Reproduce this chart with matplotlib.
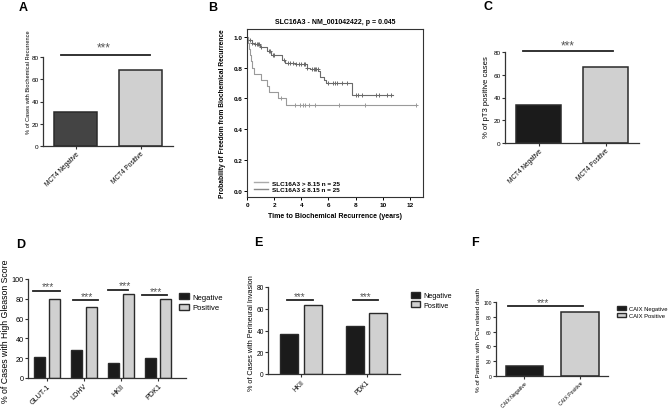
"""
Multi-panel figure: MCT4 / SLC16A3 / CAIX association with clinical outcome
"""

import numpy as np
import matplotlib
matplotlib.use("Agg")
import matplotlib.pyplot as plt
import matplotlib.transforms as mtransforms
from matplotlib.patches import Patch
from matplotlib.lines import Line2D

plt.rcParams["font.family"] = ["Liberation Sans", "DejaVu Sans"]

W, H = 668, 410

# Panel A - biochemical recurrence by MCT4 status
a_groups = ["MCT4 Negative", "MCT4 Positive"]
a_values = [31, 68]

# Panel B - Kaplan-Meier, SLC16A3 expression
km_high_t = [0, 0.1, 0.35, 0.5, 0.95, 1.45, 1.8, 2.55, 2.8, 3.5, 4.4, 4.65, 5.25, 5.4, 5.65, 5.8, 7.7, 10.75]
km_high_s = [1.0, 0.98, 0.96, 0.95, 0.93, 0.91, 0.88, 0.85, 0.83, 0.82, 0.80, 0.79, 0.78, 0.74, 0.72, 0.70, 0.625, 0.625]
km_high_cens = [0.2, 0.4, 0.6, 0.7, 0.8, 0.9, 1.05, 1.6, 1.7, 1.9, 2.0, 2.7, 3.0, 3.2, 3.4, 3.6, 3.8,
                4.0, 4.2, 4.3, 4.45, 4.8, 4.9, 5.0, 5.1, 5.2, 6.0, 6.3, 6.5, 6.6, 7.0, 7.4,
                8.0, 8.2, 8.5, 9.5, 9.7, 10.3, 10.6]
km_low_t = [0, 0.08, 0.12, 0.2, 0.3, 0.4, 0.5, 1.05, 1.5, 1.65, 2.3, 2.9, 12.45]
km_low_s = [1.0, 0.96, 0.92, 0.88, 0.84, 0.80, 0.76, 0.72, 0.68, 0.64, 0.60, 0.555, 0.555]
km_low_cens = [2.5, 3.5, 3.9, 4.1, 4.3, 4.6, 5.0, 6.8, 8.7, 12.45]
km_labels = ["SLC16A3 > 8.15 n = 25", "SLC16A3 \u2264 8.15 n = 25"]

# Panel C - pT3 by MCT4 status
c_groups = ["MCT4 Negative", "MCT4 Positive"]
c_values = [33, 67]

# Panel D - high Gleason score
d_genes = ["GLUT-1", "LDHV", "HKII", "PDK1"]
d_negative = [21, 28, 15, 20]
d_positive = [80, 72, 85, 80]

# Panel E - perineural invasion
e_genes = ["HKII", "PDK1"]
e_negative = [37, 44]
e_positive = [63, 56]

# Panel F - PCa related death by CAIX
f_groups = ["CAIX Negative", "CAIX Positive"]
f_values = [14, 86]

DARK = "#1b1b1b"
LIGHT = "#d0d0d0"
EDGE = "#2a2a2a"


def px_axes(fig, x0, y0, x1, y1):
    """Add axes from pixel box (top-left origin)"""
    return fig.add_axes([x0 / W, 1 - y1 / H, (x1 - x0) / W, (y1 - y0) / H])


def prism_style(ax, fs):
    for s in ["top", "right"]:
        ax.spines[s].set_visible(False)
    for s in ["left", "bottom"]:
        ax.spines[s].set_linewidth(0.9)
        ax.spines[s].set_color("#333333")
    ax.tick_params(length=2, width=0.8, labelsize=fs, pad=1, color="#333333")


def sig(ax, x0, x1, y, ys, xs, fs=8.5):
    ax.plot([x0, x1], [y, y], color="#222222", lw=1.3, clip_on=False)
    # asterisks sit high in the glyph box, so anchor on baseline and shift down
    tr = mtransforms.offset_copy(ax.transData, fig=ax.figure, y=-0.55 * fs * 100 / 72, units="dots")
    ax.text(xs, ys, "***", ha="center", va="baseline", fontsize=fs, color="#555555",
            transform=tr, clip_on=False)


def xlabels(ax, ticks, labels, fs):
    ax.set_xticks(ticks)
    ax.set_xticklabels(labels, rotation=45, ha="right", rotation_mode="anchor", fontsize=fs)


fig = plt.figure(figsize=(W / 100, H / 100), dpi=100)

# ---- A ----
ax = px_axes(fig, 43, 58, 173, 147)
ax.bar([0, 1], a_values, width=0.67, color=["#444444", LIGHT], edgecolor=EDGE, linewidth=1.1)
ax.set_xlim(-0.5, 1.5)
ax.set_ylim(0, 80)
ax.set_yticks([0, 20, 40, 60, 80])
prism_style(ax, 4.6)
xlabels(ax, [0, 1], a_groups, 4.7)
sig(ax, -0.22, 1.14, 81.8, 91.7, 0.43)
fig.text(29 / W, 1 - 82 / H, "% of Cases with Biochemical Recurrence", rotation=90,
         ha="center", va="center", fontsize=4.1)

# ---- B ----
ax = px_axes(fig, 247, 30, 423, 198)
ax.step(km_high_t, km_high_s, where="post", color="#6a6a6a", lw=0.8)
ax.step(km_low_t, km_low_s, where="post", color="#9a9a9a", lw=0.8)
hi_y = [km_high_s[np.searchsorted(km_high_t, c, side="right") - 1] for c in km_high_cens]
lo_y = [km_low_s[np.searchsorted(km_low_t, c, side="right") - 1] for c in km_low_cens]
ax.plot(km_high_cens, hi_y, "+", color="#6a6a6a", ms=3.2, mew=0.7)
ax.plot(km_low_cens, lo_y, "+", color="#9a9a9a", ms=3.2, mew=0.7)
ax.set_xlim(0, 12.96)
ax.set_ylim(-0.04, 1.05)
ax.set_xticks([0, 2, 4, 6, 8, 10, 12])
ax.set_yticks([0, 0.2, 0.4, 0.6, 0.8, 1.0])
ax.set_yticklabels(["0.0", "0.2", "0.4", "0.6", "0.8", "1.0"])
for s in ax.spines.values():
    s.set_linewidth(0.8)
    s.set_color("#333333")
ax.tick_params(length=2, width=0.7, labelsize=4.6, pad=1.5)
for t in ax.get_xticklabels() + ax.get_yticklabels():
    t.set_fontweight("bold")
ax.set_title("SLC16A3 - NM_001042422, p = 0.045", fontsize=5, fontweight="bold", pad=4)
fig.text(335 / W, 1 - 217 / H, "Time to Biochemical Recurrence (years)", ha="center", va="center",
         fontsize=5, fontweight="bold")
fig.text(223 / W, 1 - 114 / H, "Probability of Freedom from Biochemical Recurrence", rotation=90,
         ha="center", va="center", fontsize=4.8, fontweight="bold")
handles = [Line2D([0], [0], color="#aaaaaa", lw=1), Line2D([0], [0], color="#888888", lw=1)]
ax.legend(handles, km_labels, loc="upper left", bbox_to_anchor=(251 / W, 1 - 178 / H),
          bbox_transform=fig.transFigure, frameon=False, handlelength=2.2,
          handletextpad=0.6, labelspacing=0.15, borderpad=0, prop={"weight": "bold", "size": 4.6})

# ---- C ----
ax = px_axes(fig, 505, 53, 639, 144)
ax.bar([0, 1], c_values, width=0.67, color=[DARK, LIGHT], edgecolor=EDGE, linewidth=1.1)
ax.set_xlim(-0.5, 1.5)
ax.set_ylim(0, 80)
ax.set_yticks([0, 20, 40, 60, 80])
prism_style(ax, 4.6)
xlabels(ax, [0, 1], c_groups, 4.7)
sig(ax, -0.23, 1.11, 80.5, 88.8, 0.44)
fig.text(487 / W, 1 - 97 / H, "% of pT3 positive cases", rotation=90,
         ha="center", va="center", fontsize=5.6)

# ---- D ----
ax = px_axes(fig, 28, 280, 186, 379)
x = np.arange(len(d_genes))
ax.bar(x - 0.2, d_negative, width=0.3, color=DARK, edgecolor=EDGE, linewidth=1)
ax.bar(x + 0.2, d_positive, width=0.3, color=LIGHT, edgecolor=EDGE, linewidth=1)
ax.set_xlim(-0.51, 3.76)
ax.set_ylim(0, 100)
ax.set_yticks([0, 20, 40, 60, 80, 100])
prism_style(ax, 5.2)
xlabels(ax, x, d_genes, 5.2)
sig(ax, -0.38, 0.35, 88, 96, 0.03, 7.5)
sig(ax, 1 - 0.30, 1 + 0.38, 78.8, 86, 1.08, 7.5)
sig(ax, 2 - 0.35, 2 + 0.19, 89, 97, 2.1, 7.5)
sig(ax, 3 - 0.42, 3 + 0.25, 84, 91, 2.95, 7.5)
fig.text(6 / W, 1 - 331 / H, "% of Cases with High Gleason Score", rotation=90,
         ha="center", va="center", fontsize=6.3)
ax.legend([Patch(facecolor=DARK, edgecolor=EDGE), Patch(facecolor=LIGHT, edgecolor=EDGE)],
          ["Negative", "Positive"], loc="upper left", bbox_to_anchor=(175 / W, 1 - 290 / H),
          bbox_transform=fig.transFigure, frameon=False, fontsize=5.5, handlelength=1.3,
          handleheight=0.9, handletextpad=0.5, labelspacing=0.4, borderpad=0)

# ---- E ----
ax = px_axes(fig, 268, 288, 400, 375)
x = np.arange(len(e_genes))
ax.bar(x - 0.18, e_negative, width=0.275, color=DARK, edgecolor=EDGE, linewidth=1)
ax.bar(x + 0.18, e_positive, width=0.275, color=LIGHT, edgecolor=EDGE, linewidth=1)
ax.set_xlim(-0.5, 1.51)
ax.set_ylim(0, 80)
ax.set_yticks([0, 20, 40, 60, 80])
prism_style(ax, 4.8)
xlabels(ax, x, e_genes, 4.8)
sig(ax, -0.21, 0.18, 68, 73.6, -0.02, 7)
sig(ax, 1 - 0.2, 1 + 0.18, 68, 73.6, 0.98, 7)
fig.text(252 / W, 1 - 333 / H, "% of Cases with Perineural Invasion", rotation=90,
         ha="center", va="center", fontsize=5.2)
ax.legend([Patch(facecolor=DARK, edgecolor=EDGE), Patch(facecolor=LIGHT, edgecolor=EDGE)],
          ["Negative", "Positive"], loc="upper left", bbox_to_anchor=(407 / W, 1 - 289 / H),
          bbox_transform=fig.transFigure, frameon=False, fontsize=5.2, handlelength=1.3,
          handleheight=0.9, handletextpad=0.5, labelspacing=0.3, borderpad=0)

# ---- F ----
ax = px_axes(fig, 496, 303, 608, 377)
ax.bar([0, 1], f_values, width=0.67, color=[DARK, LIGHT], edgecolor=EDGE, linewidth=1.1)
ax.set_xlim(-0.51, 1.5)
ax.set_ylim(0, 100)
ax.set_yticks([0, 20, 40, 60, 80, 100])
prism_style(ax, 3.6)
xlabels(ax, [0, 1], f_groups, 3.7)
sig(ax, -0.3, 1.05, 94.6, 104, 0.33, 7.5)
fig.text(479 / W, 1 - 340 / H, "% of Patients with PCa related death", rotation=90,
         ha="center", va="center", fontsize=4.6)
ax.legend([Patch(facecolor=DARK, edgecolor=EDGE), Patch(facecolor=LIGHT, edgecolor=EDGE)],
          f_groups, loc="upper left", bbox_to_anchor=(614 / W, 1 - 304 / H),
          bbox_transform=fig.transFigure, frameon=False, fontsize=4.2, handlelength=1.5,
          handleheight=0.8, handletextpad=0.5, labelspacing=0.25, borderpad=0)

# panel letters
for lab, px, py in [("A", 23, 8), ("B", 213, 8), ("C", 488, 7),
                    ("D", 21, 245), ("E", 258, 243), ("F", 475, 243)]:
    fig.text(px / W, 1 - py / H, lab, ha="center", va="center", fontsize=9, fontweight="bold")

fig.savefig("out.png", dpi=100)
